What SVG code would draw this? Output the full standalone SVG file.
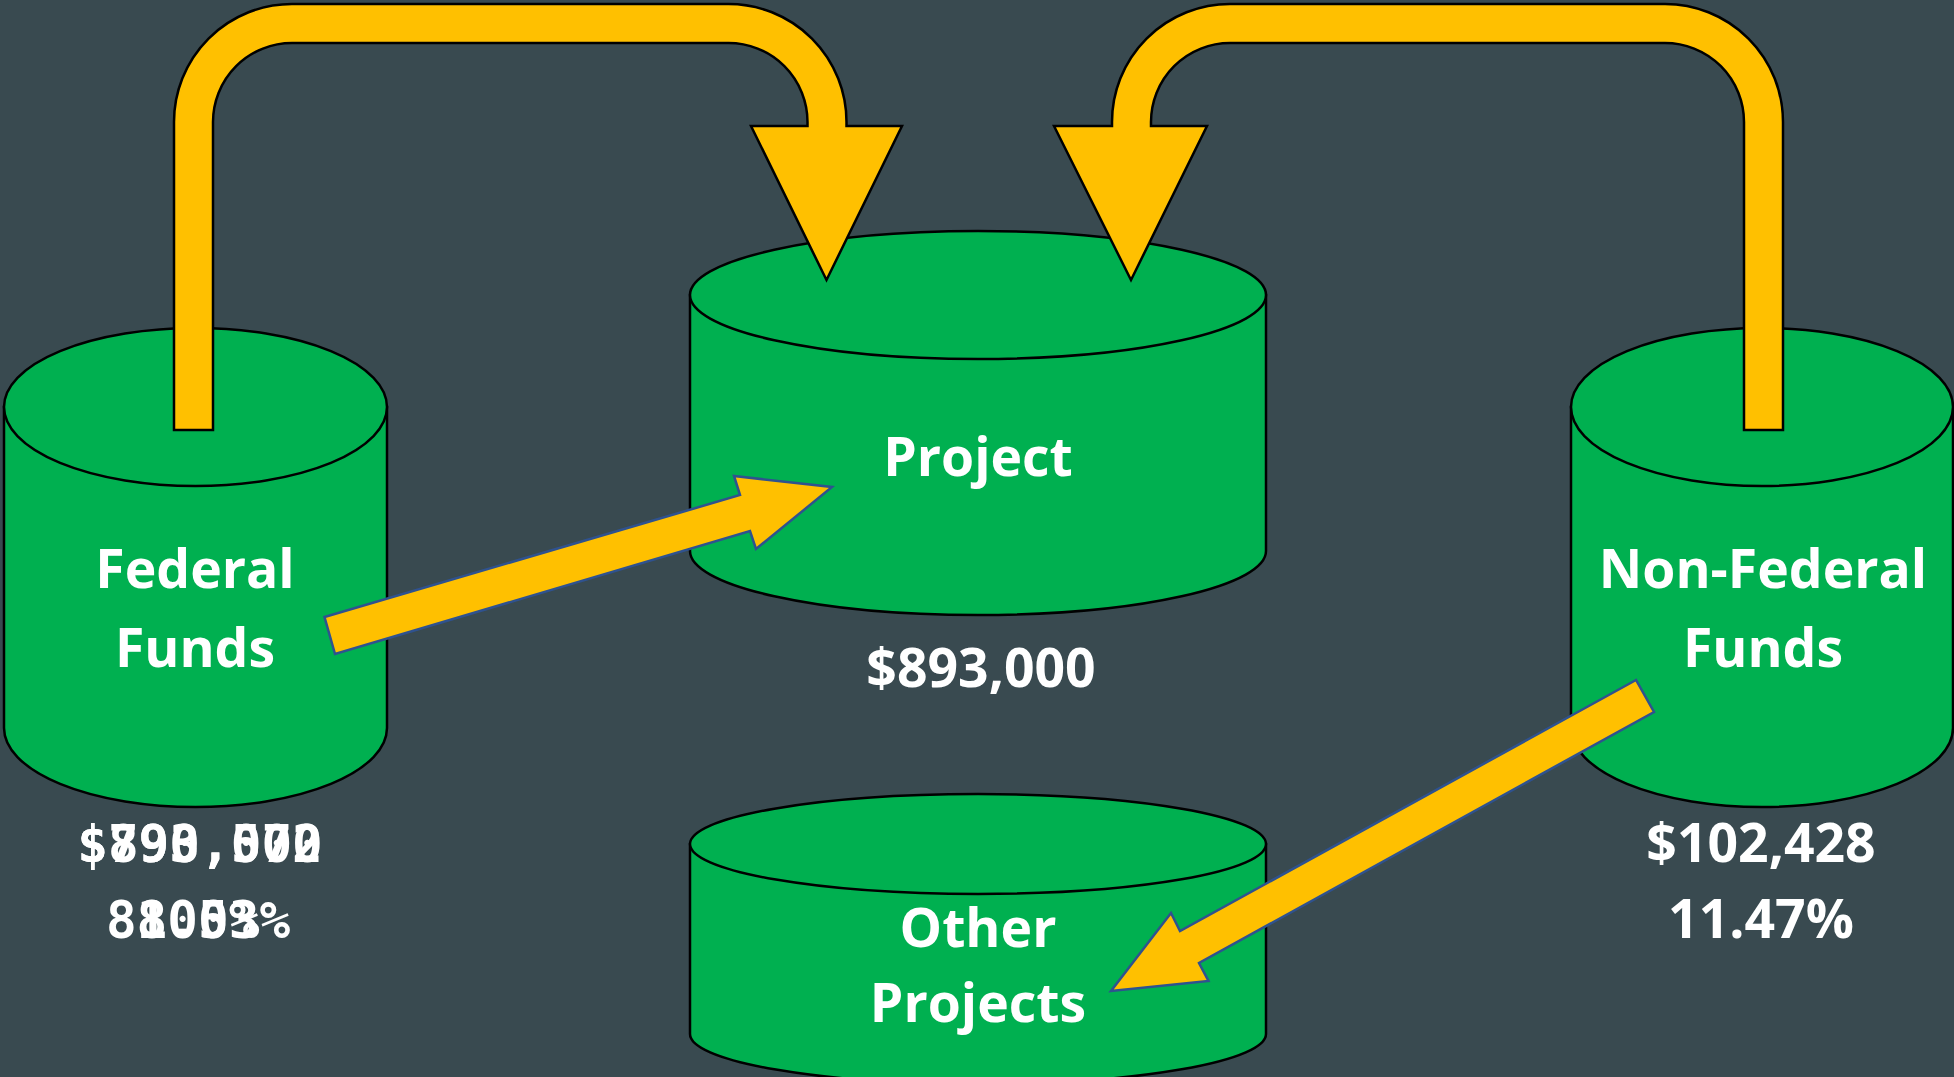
<svg xmlns="http://www.w3.org/2000/svg" width="1954" height="1077" viewBox="0 0 1954 1077">
<style>
.cyl{fill:#00B050;stroke:#000;stroke-width:2.5}
.lbl{font-family:"Open Sans","Noto Sans",sans-serif;font-weight:700;font-size:53.5px;fill:#fff;text-anchor:middle}
.mono{font-family:"DejaVu Sans Mono","Liberation Mono",monospace;font-weight:700;font-size:51px;fill:#fff;text-anchor:middle}
.ubend{fill:#FFC000;stroke:#000;stroke-width:2.5;stroke-linejoin:miter}
.flow{fill:#FFC000;stroke:#2F528F;stroke-width:2.5;stroke-linejoin:miter}
</style>
<rect x="0" y="0" width="1954" height="1077" fill="#394A50"/>

<g id="node-federal">
  <path class="cyl" d="M4,407 V728 A191.5,79 0 0 0 387,728 V407 Z"/>
  <ellipse class="cyl" cx="195.5" cy="407" rx="191.5" ry="79"/>
  <text class="lbl" x="195" y="588">Federal</text>
  <text class="lbl" x="195" y="667">Funds</text>
  <text class="mono" x="200" y="862">$790,572</text>
  <text class="mono" x="200" y="862">$893,000</text>
  <text class="mono" x="198" y="938">88.53%</text>
  <text class="mono" x="198" y="938">100%</text>
</g>

<g id="node-project">
  <path class="cyl" d="M690,295 V551 A288,64 0 0 0 1266,551 V295 Z"/>
  <ellipse class="cyl" cx="978" cy="295" rx="288" ry="64"/>
  <text class="lbl" x="978" y="476">Project</text>
  <text class="lbl" x="981" y="687">$893,000</text>
</g>

<g id="node-nonfederal">
  <path class="cyl" d="M1571,407 V728 A191,79 0 0 0 1953,728 V407 Z"/>
  <ellipse class="cyl" cx="1762" cy="407" rx="191" ry="79"/>
  <text class="lbl" x="1763" y="588">Non-Federal</text>
  <text class="lbl" x="1763" y="667">Funds</text>
  <text class="lbl" x="1761" y="862">$102,428</text>
  <text class="lbl" x="1761" y="938">11.47%</text>
</g>

<g id="node-other">
  <path class="cyl" d="M690,844 V1034 A288,50 0 0 0 1266,1034 V844 Z"/>
  <ellipse class="cyl" cx="978" cy="844" rx="288" ry="50"/>
  <text class="lbl" x="978" y="947">Other</text>
  <text class="lbl" x="978" y="1022">Projects</text>
</g>

<g id="connectors">
  <path class="ubend" d="M174,430 V122 A118,118 0 0 1 292,4 H728.5 A118,118 0 0 1 846.5,122 V126 H902 L826.5,280 L751,126 H807.5 V122 A79,79 0 0 0 728.5,43 H292 A79,79 0 0 0 213,122 V430 Z"/>
  <path class="ubend" d="M1783,430 V122 A118,118 0 0 0 1665,4 H1230 A118,118 0 0 0 1112,122 V126 H1054 L1131,280 L1207,126 H1151 V122 A79,79 0 0 1 1230,43 H1665 A79,79 0 0 1 1744,122 V430 Z"/>
  <polygon class="flow" points="324.5,617 740,495 734,476 832,487 756,549 750,531 335,654"/>
  <polygon class="flow" points="1636,680 1180,931 1171,913 1111,991 1208.5,981 1199,963 1654,712"/>
</g>
</svg>
